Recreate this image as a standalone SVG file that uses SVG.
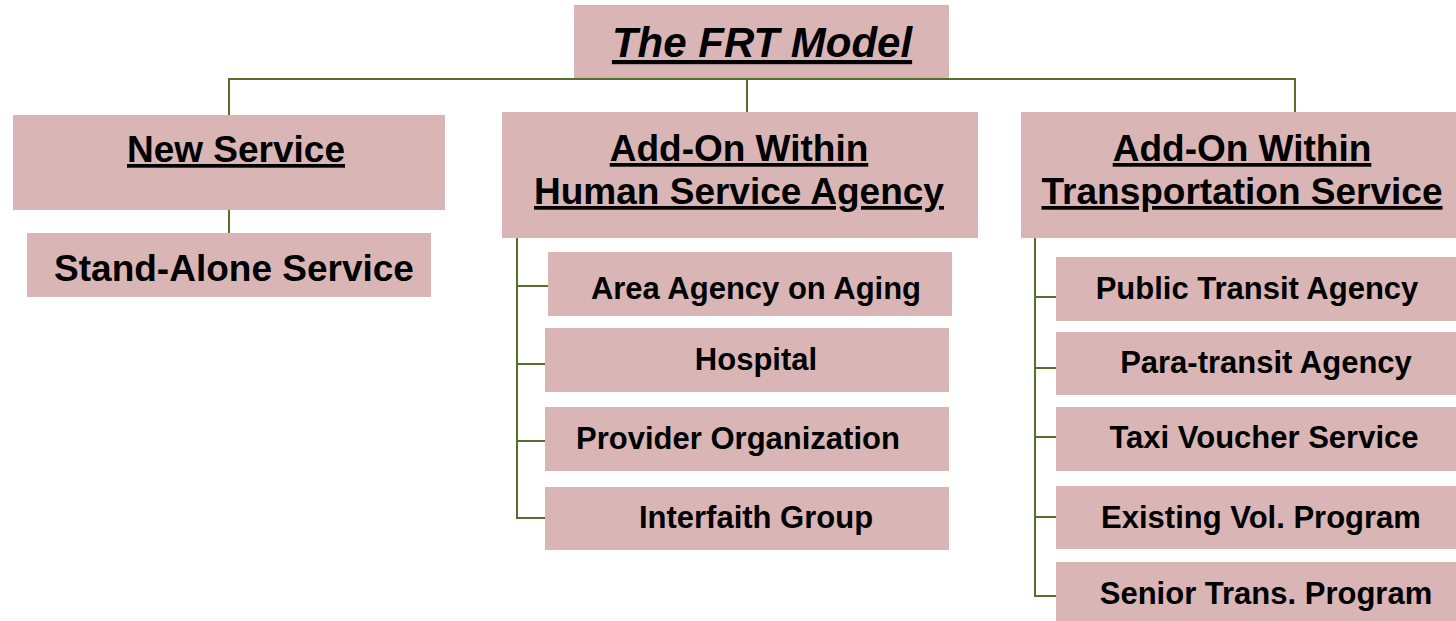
<svg xmlns="http://www.w3.org/2000/svg" width="1456" height="621" viewBox="0 0 1456 621">
<style>
.box{fill:#D9B6B5;}
.t{font-family:"Liberation Sans",Arial,sans-serif;font-weight:bold;fill:#000;text-anchor:middle;}
.h{font-size:37px;text-decoration:underline;}
.s{font-size:37px;}
.c{font-size:31px;}
.title{font-size:42px;font-style:italic;text-decoration:underline;}
.ln{stroke:#55702A;stroke-width:2;fill:none;}
</style>
<rect width="1456" height="621" fill="#fff"/>
<g id="connectors">
<path class="ln" d="M229,115 V79 H1295 V112"/>
<path class="ln" d="M747,78 V112"/>
<path class="ln" d="M229,210 V233"/>
<path class="ln" d="M517,238 V518 H545 M517,286 H548 M517,364 H545 M517,441 H545"/>
<path class="ln" d="M1035,238 V596 H1056 M1035,297 H1056 M1035,368 H1056 M1035,437 H1056 M1035,517 H1056"/>
</g>
<g id="root"><rect class="box" x="574" y="5" width="375" height="73"/><text class="t title" x="762" y="57">The FRT Model</text></g>
<g id="new-service"><rect class="box" x="13" y="115" width="432" height="95"/><text class="t h" x="236" y="162">New Service</text></g>
<g id="stand-alone"><rect class="box" x="27" y="233" width="404" height="64"/><text class="t s" x="234" y="281">Stand-Alone Service</text></g>
<g id="human-service"><rect class="box" x="502" y="112" width="476" height="126"/><text class="t h" x="739" y="161">Add-On Within</text><text class="t h" x="739" y="204">Human Service Agency</text></g>
<g id="transport-service"><rect class="box" x="1021" y="112" width="440" height="126"/><text class="t h" x="1242" y="161">Add-On Within</text><text class="t h" x="1242" y="204">Transportation Service</text></g>
<g id="area-agency"><rect class="box" x="548" y="252" width="404" height="64"/><text class="t c" x="756" y="299">Area Agency on Aging</text></g>
<g id="hospital"><rect class="box" x="545" y="328" width="404" height="64"/><text class="t c" x="756" y="370">Hospital</text></g>
<g id="provider"><rect class="box" x="545" y="407" width="404" height="64"/><text class="t c" x="738" y="449">Provider Organization</text></g>
<g id="interfaith"><rect class="box" x="545" y="487" width="404" height="63"/><text class="t c" x="756" y="528">Interfaith Group</text></g>
<g id="public-transit"><rect class="box" x="1056" y="257" width="405" height="64"/><text class="t c" x="1257" y="299">Public Transit Agency</text></g>
<g id="para-transit"><rect class="box" x="1056" y="332" width="405" height="63"/><text class="t c" x="1266" y="373">Para-transit Agency</text></g>
<g id="taxi"><rect class="box" x="1056" y="407" width="405" height="64"/><text class="t c" x="1264" y="448">Taxi Voucher Service</text></g>
<g id="existing-vol"><rect class="box" x="1056" y="486" width="405" height="63"/><text class="t c" x="1261" y="528">Existing Vol. Program</text></g>
<g id="senior-trans"><rect class="box" x="1056" y="562" width="405" height="64"/><text class="t c" x="1266" y="604">Senior Trans. Program</text></g>
</svg>
